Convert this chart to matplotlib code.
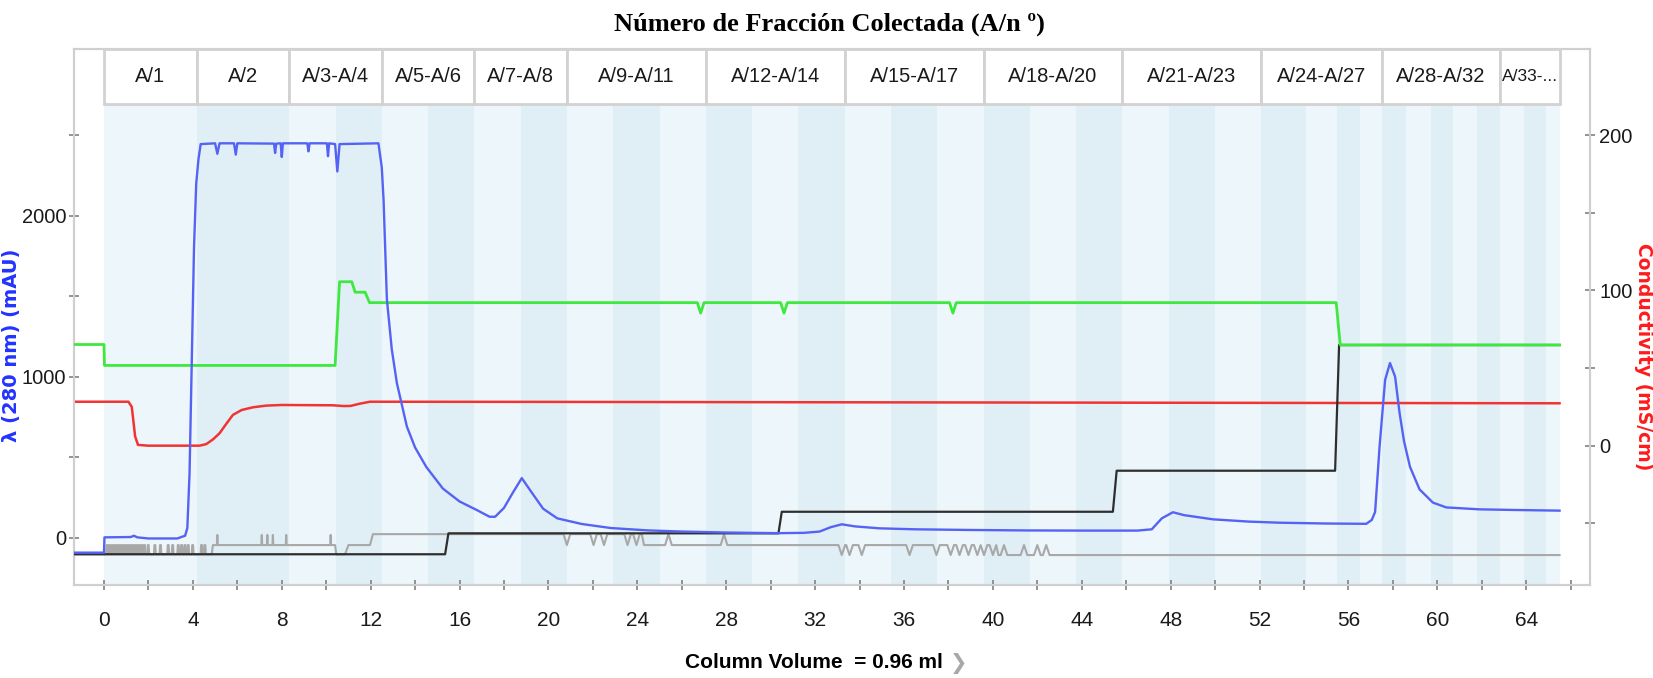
import matplotlib
matplotlib.use("Agg")
import matplotlib.pyplot as plt
from matplotlib.patches import Rectangle
from matplotlib.transforms import blended_transform_factory

# --- dane odczytane z chromatogramu ---
# granice frakcji (CV) A/1 ... A/35
frac_edges = [0, 4.17, 8.33, 10.42, 12.5, 14.58, 16.67, 18.75, 20.83, 22.92, 25.0,
              27.08, 29.17, 31.25, 33.33, 35.42, 37.5, 39.58, 41.67, 43.75, 45.83,
              47.92, 50.0, 52.08, 54.1, 55.5, 56.5, 57.5, 58.6, 59.7, 60.7, 61.8,
              62.8, 63.9, 64.9, 65.5]

header_labels = ['A/1', 'A/2', 'A/3-A/4', 'A/5-A/6', 'A/7-A/8', 'A/9-A/11',
                 'A/12-A/14', 'A/15-A/17', 'A/18-A/20', 'A/21-A/23', 'A/24-A/27',
                 'A/28-A/32', 'A/33-...']
header_edges = [0, 4.17, 8.33, 12.5, 16.67, 20.83, 27.08, 33.33, 39.58, 45.83,
                52.08, 57.5, 62.8, 65.5]

# UV 280 nm (mAU)
uv_x = [-1.35, 0.0, 0.02, 1.2, 1.35, 1.5, 2.0, 3.3, 3.5, 3.65, 3.75, 3.85, 3.95,
        4.05, 4.15, 4.25, 4.35, 5.0, 5.1, 5.2, 5.85, 5.93, 6.0, 7.65, 7.7, 7.75,
        7.95, 8.0, 8.05, 9.15, 9.2, 9.25, 10.03, 10.08, 10.13, 10.4, 10.5, 10.6,
        12.35, 12.5, 12.58, 12.73, 12.95, 13.18, 13.63, 14.0, 14.5, 15.25, 16.0,
        16.8, 17.35, 17.6, 18.0, 18.4, 18.8, 19.2, 19.76, 20.4, 21.5, 22.8, 24.5,
        26.05, 28.0, 30.35, 31.5, 32.2, 32.7, 33.2, 33.8, 34.9, 36.5, 38.9, 41.5,
        44.0, 46.5, 47.15, 47.6, 48.1, 48.6, 49.9, 51.5, 52.9, 55.0, 56.8, 57.05,
        57.2, 57.4, 57.65, 57.87, 58.1, 58.3, 58.5, 58.77, 59.2, 59.8, 60.4, 61.9,
        63.5, 65.5]
uv_y = [-93, -93, 2, 4, 12, 2, -5, -5, 5, 12, 60, 400, 1100,
        1800, 2200, 2350, 2445, 2450, 2385, 2450, 2450, 2380, 2450, 2448, 2390, 2448,
        2450, 2365, 2450, 2450, 2400, 2450, 2450, 2370, 2450, 2445, 2275, 2445,
        2450, 2300, 2100, 1480, 1170, 960, 690, 560, 440, 305, 225,
        170, 130, 130, 185, 280, 370, 290, 180, 120, 85, 60, 45,
        38, 32, 28, 30, 38, 65, 83, 70, 58, 52, 48, 45,
        44, 44, 52, 120, 158, 140, 114, 100, 93, 88, 86, 110,
        160, 565, 980, 1085, 1000, 775, 600, 440, 300, 218, 188, 176,
        172, 168]

# przewodnictwo (mS/cm)
cond_x = [-1.35, 1.1, 1.25, 1.4, 1.53, 2.0, 4.3, 4.6, 4.9, 5.2, 5.5, 5.8, 6.2,
          6.7, 7.3, 8.0, 10.3, 10.8, 11.1, 11.5, 11.97, 20, 40, 65.5]
cond_y = [28.3, 28.3, 25, 6, 0.5, 0, 0, 1, 4, 8, 14, 19.8, 23,
          24.7, 25.8, 26.2, 26, 25.5, 25.6, 27, 28.3, 28.2, 27.8, 27.3]

# zielona krzywa (skala lewej osi)
green_x = [-1.35, 0.0, 0.02, 10.4, 10.6, 11.15, 11.3, 11.75, 11.95, 26.7, 26.85,
           27.0, 30.45, 30.6, 30.75, 38.05, 38.2, 38.35, 55.45, 55.63, 65.5]
green_y = [1200, 1200, 1070, 1070, 1590, 1590, 1525, 1525, 1460, 1460, 1395,
           1460, 1460, 1395, 1460, 1460, 1395, 1460, 1460, 1197, 1197]

# czarna krzywa schodkowa
black_x = [-1.35, 15.35, 15.5, 30.35, 30.5, 45.4, 45.57, 55.4, 55.58, 65.5]
black_y = [-103, -103, 27, 27, 161, 161, 416, 416, 1197, 1197]

# szara krzywa: poziomy i zakłócenia
gray_pulses = [0.1, 0.22, 0.34, 0.46, 0.58, 0.7, 0.82, 0.94, 1.06, 1.18, 1.3,
               1.42, 1.54, 1.66, 1.78, 1.95, 2.25, 2.5, 2.85, 3.05, 3.3, 3.45,
               3.6, 3.75, 3.95, 4.35, 4.5]
gray_up_ticks = [5.1, 7.1, 7.35, 7.6, 8.2, 10.2]
gray_dips_hi = [20.83, 22.03, 22.5, 23.56, 23.96]
gray_spikes_mid = [25.4, 27.9]
gray_dips_mid = [33.2, 33.55, 34.1, 36.25, 37.46, 38.1, 38.5, 38.9, 39.3, 39.6, 40.0]
gray_spikes_lo = [40.5, 41.4, 42.0, 42.4]
gray_levels = [-103, -46, 22, -108]

# --- budowa szarej ścieżki ---
lo, mid, hi, low2 = gray_levels
gx, gy = [-1.35, 0.0], [lo, lo]
for s in gray_pulses:
    gx += [s, s + 0.02, s + 0.06, s + 0.08]
    gy += [lo, mid, mid, lo]
gx += [4.85, 4.9]
gy += [lo, mid]
for s in gray_up_ticks:
    gx += [s - 0.02, s, s + 0.02]
    gy += [mid, hi - 5, mid]
gx += [10.4, 10.45, 10.85, 11.0, 11.97, 12.1]
gy += [mid, lo, lo, mid, mid, hi]
for s in gray_dips_hi:
    gx += [s - 0.15, s, s + 0.15]
    gy += [hi, mid, hi]
gx += [24.2, 24.3]
gy += [hi, mid]
for s in gray_spikes_mid:
    gx += [s - 0.15, s, s + 0.15]
    gy += [mid, hi, mid]
for s in gray_dips_mid:
    gx += [s - 0.15, s, s + 0.15]
    gy += [mid, low2, mid]
gx += [40.15, 40.25]
gy += [mid, low2]
for s in gray_spikes_lo:
    gx += [s - 0.15, s, s + 0.15]
    gy += [low2, mid, low2]
gx += [65.5]
gy += [low2]

# --- rysunek ---
plt.rcParams['font.family'] = ['Liberation Sans', 'DejaVu Sans']

fig = plt.figure(figsize=(16.53, 6.78), dpi=100)
ax = fig.add_axes([74 / 1653, 93 / 678, 1516 / 1653, 535.7 / 678])
ax2 = ax.twinx()
ax.set_zorder(2)
ax.patch.set_visible(False)

ax.set_xlim(-1.35, 66.87)
ax.set_ylim(-294, 3034)
ax2.set_ylim(-89.7, 255.2)

head_bottom = 481 / 535.7
trans2 = blended_transform_factory(ax2.transData, ax2.transAxes)
trans = blended_transform_factory(ax.transData, ax.transAxes)

# pasy frakcji w tle
for i in range(len(frac_edges) - 1):
    col = '#edf6fa' if i % 2 == 0 else '#e0eff5'
    ax2.add_patch(Rectangle((frac_edges[i], 0), frac_edges[i + 1] - frac_edges[i],
                            head_bottom, transform=trans2, facecolor=col,
                            linewidth=0, zorder=0))

# nagłówek z numerami frakcji
for i, lab in enumerate(header_labels):
    x0, x1 = header_edges[i], header_edges[i + 1]
    ax.add_patch(Rectangle((x0, head_bottom), x1 - x0, 1 - head_bottom,
                           transform=trans, facecolor='white', edgecolor='#d2d2d2',
                           linewidth=2, zorder=5, clip_on=False))
    fs = 14.5 if x1 - x0 > 3 else 12.5
    ax.text((x0 + x1) / 2, (head_bottom + 1) / 2, lab, transform=trans,
            ha='center', va='center', fontsize=fs, color='#1a1a1a', zorder=6)

ax2.plot(cond_x, cond_y, color='#f03434', lw=1.8, zorder=3)
ax.plot(gx, gy, color='#a8a8a8', lw=1.5, zorder=2)
ax.plot(black_x, black_y, color='#2e2e2e', lw=1.6, zorder=3)
ax.plot(green_x, green_y, color='#3fe83f', lw=2.0, zorder=3)
ax.plot(uv_x, uv_y, color='#5563f5', lw=1.7, zorder=4)

# osie i podziałki
ax.set_xticks(range(0, 65, 4))
ax.set_xticks(range(0, 67, 2), minor=True)
ax.set_yticks([0, 1000, 2000])
ax.set_yticks([500, 1500, 2500], minor=True)
ax2.set_yticks([0, 100, 200])
ax2.set_yticks([-50, 50, 150], minor=True)

for a in (ax, ax2):
    for sp in a.spines.values():
        sp.set_color('#cfcfcf')
        sp.set_linewidth(1.5)
    a.tick_params(which='both', direction='inout', length=7, width=1.2,
                  color='#808080', labelsize=14.5, labelcolor='#1a1a1a')
ax.tick_params(axis='x', which='both', pad=15, labelsize=15)
ax.tick_params(axis='y', which='both', pad=2)
ax2.tick_params(axis='y', which='both', pad=3)

fig.text(829 / 1653, 1 - 24 / 678, 'Número de Fracción Colectada (A/n º)',
         ha='center', va='center', fontsize=19, fontweight='bold',
         family=['Liberation Serif', 'DejaVu Serif'])
fig.text(12 / 1653, 1 - 345 / 678, 'λ (280 nm) (mAU)', rotation=90,
         ha='center', va='center', fontsize=14, fontweight='bold',
         color='#2233ff', family=['DejaVu Sans'])
fig.text(1644 / 1653, 1 - 357 / 678, 'Conductivity (mS/cm)', rotation=-90,
         ha='center', va='center', fontsize=13.5, fontweight='bold',
         color='#ff1a1a', family=['DejaVu Sans'])
fig.text(943 / 1653, 1 - 663 / 678, 'Column Volume  = 0.96 ml',
         ha='right', va='center', fontsize=15, fontweight='bold')
fig.text(950 / 1653, 1 - 663 / 678, '❯', ha='left', va='center',
         fontsize=15, color='#a8a8a8', family=['DejaVu Sans'])

fig.savefig('out.png', dpi=100)
